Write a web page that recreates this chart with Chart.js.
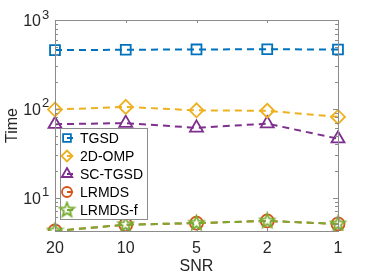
<!DOCTYPE html>
<html lang="en">
<head>
    <meta charset="UTF-8">
    <title>Time vs SNR</title>
    <script src="https://cdn.jsdelivr.net/npm/chart.js"></script>
    <style>
        body { margin: 0; background: #fff; }
        #wrap { width: 374px; height: 280px; }
    </style>
</head>
<body>
    <div id="wrap"><canvas id="grafico"></canvas></div>

    <script>
        // datos
        const snr = ['20', '10', '5', '2', '1'];
        const tgsd = [458, 462, 466, 468, 465];
        const omp2d = [98, 105, 96, 95, 81];
        const scTgsd = [67, 69, 61, 68, 46];
        const lrmds = [4.2, 4.95, 5.15, 5.45, 5.05];
        const lrmdsF = [4.2, 4.95, 5.15, 5.45, 5.05];
        const yTicks = [5, 6, 7, 8, 9, 10, 20, 30, 40, 50, 60, 70, 80, 90, 100, 200, 300, 400, 500, 600, 700, 800, 900, 1000];
        const yLabels = [10, 100, 1000];

        const axisColor = '#8c8c8c';
        const textColor = '#262626';
        const font = 'Liberation Sans, Arial, sans-serif';

        // estrella de 5 puntas hueca
        function hacerEstrella(color, r) {
            const c = document.createElement('canvas');
            const s = Math.ceil(r * 2 + 4);
            c.width = s; c.height = s;
            const g = c.getContext('2d');
            g.strokeStyle = color;
            g.lineWidth = 1.8;
            g.beginPath();
            for (let i = 0; i < 10; i++) {
                const rr = i % 2 === 0 ? r : r * 0.42;
                const a = -Math.PI / 2 + i * Math.PI / 5;
                const px = s / 2 + rr * Math.cos(a), py = s / 2 + rr * Math.sin(a);
                if (i === 0) g.moveTo(px, py); else g.lineTo(px, py);
            }
            g.closePath();
            g.stroke();
            return c;
        }

        const series = [
            { label: 'TGSD', data: tgsd, color: '#0072BD', style: 'rect', r: 7 },
            { label: '2D-OMP', data: omp2d, color: '#EDB120', style: 'rectRot', r: 7 },
            { label: 'SC-TGSD', data: scTgsd, color: '#7E2F8E', style: 'triangle', r: 7.5 },
            { label: 'LRMDS', data: lrmds, color: '#D95319', style: 'circle', r: 6.5 },
            { label: 'LRMDS-f', data: lrmdsF, color: '#77AC30', style: hacerEstrella('#77AC30', 7.5), r: 7.5 }
        ];

        const datasets = series.map((s, i) => ({
            label: s.label,
            data: s.data,
            borderColor: s.color,
            backgroundColor: 'rgba(0,0,0,0)',
            borderWidth: 2,
            borderDash: [7, 5],
            pointStyle: s.style,
            pointRadius: s.r,
            pointBorderWidth: 1.8,
            pointBackgroundColor: 'rgba(0,0,0,0)',
            pointBorderColor: s.color,
            order: i === 4 ? 0 : 1
        }));

        // caja, marcas interiores, etiquetas 10^n y leyenda
        const cajaPlugin = {
            id: 'caja',
            afterDraw(chart) {
                const ctx = chart.ctx;
                const a = chart.chartArea;
                const ys = chart.scales.y, xs = chart.scales.x;
                ctx.save();
                ctx.strokeStyle = axisColor;
                ctx.lineWidth = 1;
                ctx.strokeRect(a.left + 0.5, a.top + 0.5, a.right - a.left, a.bottom - a.top);
                ctx.beginPath();
                yTicks.forEach(v => {
                    const y = Math.round(ys.getPixelForValue(v)) + 0.5;
                    const len = yLabels.includes(v) ? 5 : 3;
                    ctx.moveTo(a.left, y); ctx.lineTo(a.left + len, y);
                    ctx.moveTo(a.right, y); ctx.lineTo(a.right - len, y);
                });
                snr.forEach((_, i) => {
                    const x = Math.round(xs.getPixelForValue(i)) + 0.5;
                    ctx.moveTo(x, a.top); ctx.lineTo(x, a.top + 3);
                    ctx.moveTo(x, a.bottom); ctx.lineTo(x, a.bottom - 3);
                });
                ctx.stroke();

                // etiquetas del eje y con exponente
                ctx.fillStyle = textColor;
                ctx.textBaseline = 'middle';
                yLabels.forEach(v => {
                    const y = ys.getPixelForValue(v);
                    const bx = a.left - 14;
                    ctx.font = '16px ' + font;
                    ctx.textAlign = 'right';
                    ctx.fillText('10', bx, y + 2);
                    ctx.font = '13px ' + font;
                    ctx.textAlign = 'left';
                    ctx.fillText(String(Math.round(Math.log10(v))), bx + 1, y - 5);
                });

                // leyenda
                const lx = a.left + 5, ly = a.top + 108, lw = 87, lh = 91;
                ctx.fillStyle = '#fff';
                ctx.fillRect(lx, ly, lw, lh);
                ctx.strokeStyle = axisColor;
                ctx.strokeRect(lx + 0.5, ly + 0.5, lw, lh);
                ctx.font = '14px ' + font;
                ctx.textAlign = 'left';
                ctx.textBaseline = 'middle';
                series.forEach((s, i) => {
                    const cy = ly + 10 + i * 18;
                    const cx = lx + 7;
                    ctx.strokeStyle = s.color;
                    ctx.lineWidth = 2;
                    ctx.beginPath();
                    ctx.moveTo(cx, cy); ctx.lineTo(cx + 6, cy);
                    ctx.stroke();
                    ctx.lineWidth = 1.8;
                    ctx.fillStyle = 'rgba(0,0,0,0)';
                    Chart.helpers.drawPoint(ctx, { pointStyle: s.style, radius: s.r - 1.5, borderWidth: 1.8, rotation: 0 }, cx, cy);
                    ctx.fillStyle = '#000';
                    ctx.fillText(s.label, lx + 20, cy + 1);
                });
                ctx.restore();
            }
        };

        const ctx = document.getElementById('grafico').getContext('2d');
        const grafico = new Chart(ctx, {
            type: 'line',
            data: { labels: snr, datasets: datasets },
            options: {
                responsive: true,
                maintainAspectRatio: false,
                animation: false,
                layout: { padding: { top: 20, right: 36, left: 0, bottom: 0 } },
                plugins: { legend: { display: false }, tooltip: { enabled: false } },
                scales: {
                    x: {
                        type: 'category',
                        offset: false,
                        grid: { display: false, drawTicks: false },
                        border: { display: false },
                        ticks: { color: textColor, font: { family: font, size: 16 }, padding: 8, maxRotation: 0 },
                        title: { display: true, text: 'SNR', color: textColor, font: { family: font, size: 16 }, padding: { top: 0 } },
                        afterFit(scale) { scale.height = 49; }
                    },
                    y: {
                        type: 'logarithmic',
                        min: 4.2,
                        max: 1000,
                        grid: { display: false, drawTicks: false },
                        border: { display: false },
                        afterBuildTicks(scale) { scale.ticks = yTicks.map(v => ({ value: v })); },
                        ticks: { display: false },
                        title: { display: true, text: 'Time', color: textColor, font: { family: font, size: 16 }, padding: { top: 3, bottom: 0 } },
                        afterFit(scale) { scale.width = 55; }
                    }
                }
            },
            plugins: [cajaPlugin]
        });
    </script>
</body>
</html>
